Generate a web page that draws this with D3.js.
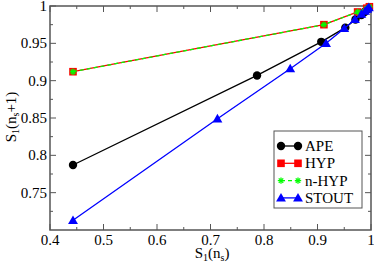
<!DOCTYPE html>
<html>
<head>
<meta charset="utf-8">
<script src="https://cdn.jsdelivr.net/npm/d3@7"></script>
<style>
  body { margin: 0; background: #fff; }
</style>
</head>
<body>
<div id="container"></div>
<script>
/* CONSTANTS AND GLOBALS */
const width = 374,
  height = 266,
  margin = {top: 6, bottom: 36, left: 50, right: 3};
const serif = "'Liberation Serif', 'Times New Roman', 'DejaVu Serif', serif"

/* DATA */
const apeX = [0.443, 0.787, 0.907, 0.952, 0.971, 0.982, 0.988, 0.992, 0.995]
const apeY = [0.787, 0.907, 0.952, 0.971, 0.982, 0.988, 0.992, 0.995, 0.997]
const hypX = [0.443, 0.912, 0.975, 0.992, 0.997]
const hypY = [0.912, 0.975, 0.992, 0.997, 0.999]
const nhypX = [0.443, 0.912, 0.975, 0.992, 0.997]
const nhypY = [0.912, 0.975, 0.992, 0.997, 0.999]
const stoutX = [0.443, 0.713, 0.849, 0.916, 0.950, 0.970, 0.982, 0.989, 0.993, 0.996]
const stoutY = [0.713, 0.849, 0.916, 0.950, 0.970, 0.982, 0.989, 0.993, 0.996, 0.998]
const xTicks = [0.4, 0.5, 0.6, 0.7, 0.8, 0.9, 1]
const yTicks = [0.75, 0.8, 0.85, 0.9, 0.95, 1]

const series = [
  {name: "APE", xs: apeX, ys: apeY, color: "black", sym: "circle"},
  {name: "HYP", xs: hypX, ys: hypY, color: "#ff0000", sym: "square"},
  {name: "n-HYP", xs: nhypX, ys: nhypY, color: "#00ff00", sym: "star", dash: "4,3"},
  {name: "STOUT", xs: stoutX, ys: stoutY, color: "#0000ff", sym: "triangle"}
]

// SCALES
const xScale = d3.scaleLinear()
  .domain([0.4, 1])
  .range([margin.left, width - margin.right])

const yScale = d3.scaleLinear()
  .domain([0.7, 1])
  .range([height - margin.bottom, margin.top])

// CREATE SVG ELEMENT
const svg = d3.select("#container")
  .append("svg")
  .attr("width", width)
  .attr("height", height)
  .attr("font-family", serif)
  .style("font-family", serif)

const x0 = margin.left, x1 = width - margin.right
const y0 = height - margin.bottom, y1 = margin.top

// AXES (ticks inward on all four sides)
const axisColor = "#555"
const minorX = d3.range(0.45, 1, 0.1)
const minorY = d3.range(0.725, 1, 0.05)

const tickG = svg.append("g").attr("stroke", axisColor).attr("stroke-width", 1)
xTicks.forEach(v => {
  tickG.append("line").attr("x1", xScale(v)).attr("x2", xScale(v)).attr("y1", y0).attr("y2", y0 - 6)
  tickG.append("line").attr("x1", xScale(v)).attr("x2", xScale(v)).attr("y1", y1).attr("y2", y1 + 6)
})
minorX.forEach(v => {
  tickG.append("line").attr("x1", xScale(v)).attr("x2", xScale(v)).attr("y1", y0).attr("y2", y0 - 3)
  tickG.append("line").attr("x1", xScale(v)).attr("x2", xScale(v)).attr("y1", y1).attr("y2", y1 + 3)
})
yTicks.forEach(v => {
  tickG.append("line").attr("x1", x0).attr("x2", x0 + 6).attr("y1", yScale(v)).attr("y2", yScale(v))
  tickG.append("line").attr("x1", x1).attr("x2", x1 - 6).attr("y1", yScale(v)).attr("y2", yScale(v))
})
minorY.forEach(v => {
  tickG.append("line").attr("x1", x0).attr("x2", x0 + 3).attr("y1", yScale(v)).attr("y2", yScale(v))
  tickG.append("line").attr("x1", x1).attr("x2", x1 - 3).attr("y1", yScale(v)).attr("y2", yScale(v))
})

svg.append("rect")
  .attr("x", x0).attr("y", y1)
  .attr("width", x1 - x0).attr("height", y0 - y1)
  .attr("fill", "none").attr("stroke", axisColor).attr("stroke-width", 1.5)

svg.selectAll(".xlab")
  .data(xTicks)
  .join("text")
  .attr("x", d => xScale(d))
  .attr("y", y0 + 15)
  .attr("text-anchor", "middle")
  .attr("font-size", 15)
  .text(d => d)

svg.selectAll(".ylab")
  .data(yTicks)
  .join("text")
  .attr("x", x0 - 3)
  .attr("y", d => yScale(d) + 5)
  .attr("text-anchor", "end")
  .attr("font-size", 15)
  .text(d => d)

// AXIS TITLES
svg.append("text")
  .attr("x", 212).attr("y", 258)
  .attr("text-anchor", "middle")
  .attr("font-size", 15)
  .html('S<tspan font-size="10" dy="3">1</tspan><tspan dy="-3">(n</tspan><tspan font-size="10" dy="3">s</tspan><tspan dy="-3">)</tspan>')

svg.append("text")
  .attr("transform", `translate(16, ${117}) rotate(-90)`)
  .attr("text-anchor", "middle")
  .attr("font-size", 15)
  .html('S<tspan font-size="10" dy="3">1</tspan><tspan dy="-3">(n</tspan><tspan font-size="10" dy="3">s</tspan><tspan dy="-3">+1)</tspan>')

// MARKERS
function drawMarker(g, sym, color, cx, cy) {
  if (sym === "circle") {
    g.append("circle").attr("cx", cx).attr("cy", cy).attr("r", 4.2).attr("fill", color)
  } else if (sym === "square") {
    g.append("rect").attr("x", cx - 3.8).attr("y", cy - 3.8).attr("width", 7.6).attr("height", 7.6)
      .attr("fill", color)
  } else if (sym === "triangle") {
    g.append("path").attr("d", d3.symbol(d3.symbolTriangle, 42)())
      .attr("transform", `translate(${cx},${cy + 0.8})`).attr("fill", color)
  } else if (sym === "star") {
    const r = 3.2
    const s = g.append("g").attr("stroke", color).attr("stroke-width", 1.3)
    s.append("line").attr("x1", cx - r).attr("x2", cx + r).attr("y1", cy).attr("y2", cy)
    s.append("line").attr("x1", cx).attr("x2", cx).attr("y1", cy - r).attr("y2", cy + r)
    s.append("line").attr("x1", cx - r * 0.7).attr("x2", cx + r * 0.7).attr("y1", cy - r * 0.7).attr("y2", cy + r * 0.7)
    s.append("line").attr("x1", cx - r * 0.7).attr("x2", cx + r * 0.7).attr("y1", cy + r * 0.7).attr("y2", cy - r * 0.7)
  }
}

// LINE GENERATOR FUNCTION
const lineGen = d3.line()
  .x(d => xScale(d[0]))
  .y(d => yScale(d[1]))

series.forEach(s => {
  const pts = s.xs.map((x, i) => [x, s.ys[i]])
  const g = svg.append("g")
  g.append("path")
    .attr("fill", "none")
    .attr("stroke", s.color)
    .attr("stroke-width", 1.3)
    .attr("stroke-dasharray", s.dash || null)
    .attr("d", lineGen(pts))
  pts.forEach(p => drawMarker(g, s.sym, s.color, xScale(p[0]), yScale(p[1])))
})

// LEGEND
const legend = svg.append("g")
legend.append("rect")
  .attr("x", 274).attr("y", 131)
  .attr("width", 88).attr("height", 77)
  .attr("fill", "white").attr("stroke", axisColor).attr("stroke-width", 1)

series.forEach((s, i) => {
  const ly = 146 + i * 17.3
  legend.append("line")
    .attr("x1", 281).attr("x2", 298).attr("y1", ly).attr("y2", ly)
    .attr("stroke", s.color).attr("stroke-width", 1.3)
    .attr("stroke-dasharray", s.dash || null)
  drawMarker(legend, s.sym, s.color, 281, ly)
  drawMarker(legend, s.sym, s.color, 298, ly)
  legend.append("text")
    .attr("x", 305).attr("y", ly + 5)
    .attr("font-size", 15)
    .text(s.name)
})
</script>
</body>
</html>
